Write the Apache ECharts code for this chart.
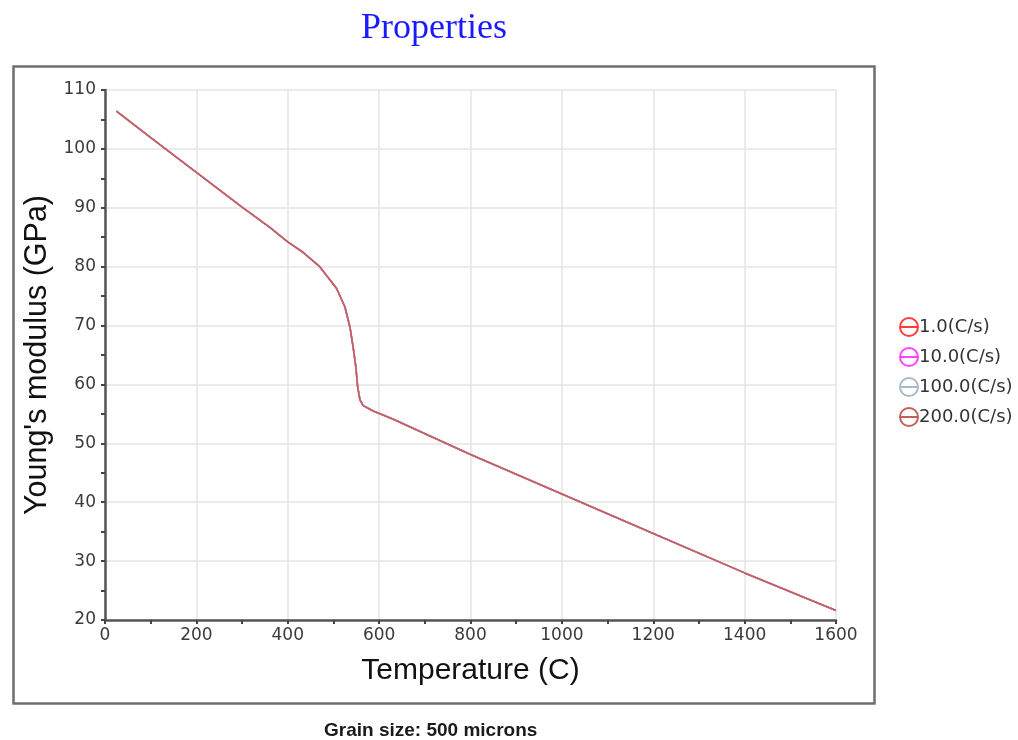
<!DOCTYPE html>
<html>
<head>
<meta charset="utf-8">
<title>Properties</title>
<script src="https://cdn.jsdelivr.net/npm/echarts@6/dist/echarts.min.js"></script>
<style>
  html, body { margin: 0; padding: 0; background: #fff; }
  #chart { width: 1018px; height: 740px; }
</style>
</head>
<body>
<div id="chart"></div>
<script>
// temperature (C) and young's modulus (GPa)
const tempC = [25, 100, 200, 300, 360, 400, 434, 470, 507, 525, 536, 543, 549, 553, 558, 565, 575, 587, 631, 800, 1000, 1200, 1400, 1600]
const modulus = [106.4, 101.9, 96.0, 90.1, 86.7, 84.2, 82.4, 80.0, 76.3, 73.2, 69.8, 66.4, 63.0, 59.6, 57.4, 56.4, 56.0, 55.5, 54.1, 48.1, 41.4, 34.7, 28.0, 21.6]
// cooling rates - all four runs give the same curve
const rates = ['1.0(C/s)', '10.0(C/s)', '100.0(C/s)', '200.0(C/s)']
const rateColors = ['#ff3b3b', '#ff44ff', '#a9b9c9', '#c2605c']

const myChart = echarts.init(document.getElementById('chart'))

// ring with a bar through it, like the legend marks in the original
const ringIcon = 'path://M0,-10A10,10 0 1,1 0,10A10,10 0 1,1 0,-10Z' +
  'M0,-8A8,8 0 1,0 0,8A8,8 0 1,0 0,-8Z' +
  'M-8,-1.1L8,-1.1L8,1.1L-8,1.1Z'

const points = tempC.map((t, i) => [t, modulus[i]])

const option = {
  animation: false,
  color: rateColors,
  title: {
    text: 'Properties',
    left: 356,
    top: 6,
    textStyle: {
      fontFamily: 'Liberation Serif',
      fontWeight: 'normal',
      fontSize: 36,
      color: '#1a1aff'
    }
  },
  graphic: [
    {
      type: 'rect',
      left: 11,
      top: 64,
      shape: { width: 861, height: 637 },
      style: { fill: 'none', stroke: '#6f6f6f', lineWidth: 2.5 },
      silent: true
    },
    {
      type: 'text',
      left: 324,
      top: 721,
      style: {
        text: 'Grain size: 500 microns',
        fontFamily: 'Liberation Sans',
        fontWeight: 'bold',
        fontSize: 19,
        fill: '#1a1a1a'
      }
    }
  ],
  legend: {
    orient: 'vertical',
    left: 894,
    top: 312,
    icon: ringIcon,
    itemWidth: 20,
    itemHeight: 20,
    itemGap: 10,
    data: rates,
    textStyle: {
      fontFamily: 'DejaVu Sans',
      fontSize: 18,
      color: '#333',
      padding: [0, 0, 0, -5]
    }
  },
  grid: {
    left: 105,
    top: 90,
    right: 182,
    bottom: 120
  },
  xAxis: {
    type: 'value',
    min: 0,
    max: 1600,
    interval: 200,
    name: 'Temperature (C)',
    nameLocation: 'middle',
    nameGap: 36,
    nameTextStyle: {
      fontFamily: 'Liberation Sans',
      fontSize: 30,
      color: '#111'
    },
    axisLine: { lineStyle: { color: '#555', width: 2.5 } },
    axisTick: { length: 4, lineStyle: { color: '#444', width: 2 } },
    minorTick: { show: true, splitNumber: 2, length: 4, lineStyle: { color: '#444', width: 2 } },
    axisLabel: {
      margin: 7,
      fontFamily: 'DejaVu Sans',
      fontSize: 17,
      color: '#3a3a3a',
      formatter: (v) => String(v)
    },
    splitLine: { show: true, lineStyle: { color: '#e4e4e4', width: 1.5 } }
  },
  yAxis: {
    type: 'value',
    min: 20,
    max: 110,
    interval: 10,
    name: "Young's modulus (GPa)",
    nameLocation: 'middle',
    nameGap: 47,
    nameTextStyle: {
      fontFamily: 'Liberation Sans',
      fontSize: 30.5,
      color: '#111'
    },
    axisLine: { show: true, lineStyle: { color: '#555', width: 2.5 } },
    axisTick: { show: true, length: 4, lineStyle: { color: '#444', width: 2 } },
    minorTick: { show: true, splitNumber: 2, length: 4, lineStyle: { color: '#444', width: 2 } },
    axisLabel: {
      margin: 9,
      fontFamily: 'DejaVu Sans',
      fontSize: 17,
      color: '#3a3a3a'
    },
    splitLine: { show: true, lineStyle: { color: '#e4e4e4', width: 1.5 } }
  },
  series: rates.map((name) => {
    return {
      name: name,
      type: 'line',
      showSymbol: false,
      data: points,
      lineStyle: { width: 1.6 }
    }
  })
}

myChart.setOption(option)
</script>
</body>
</html>
